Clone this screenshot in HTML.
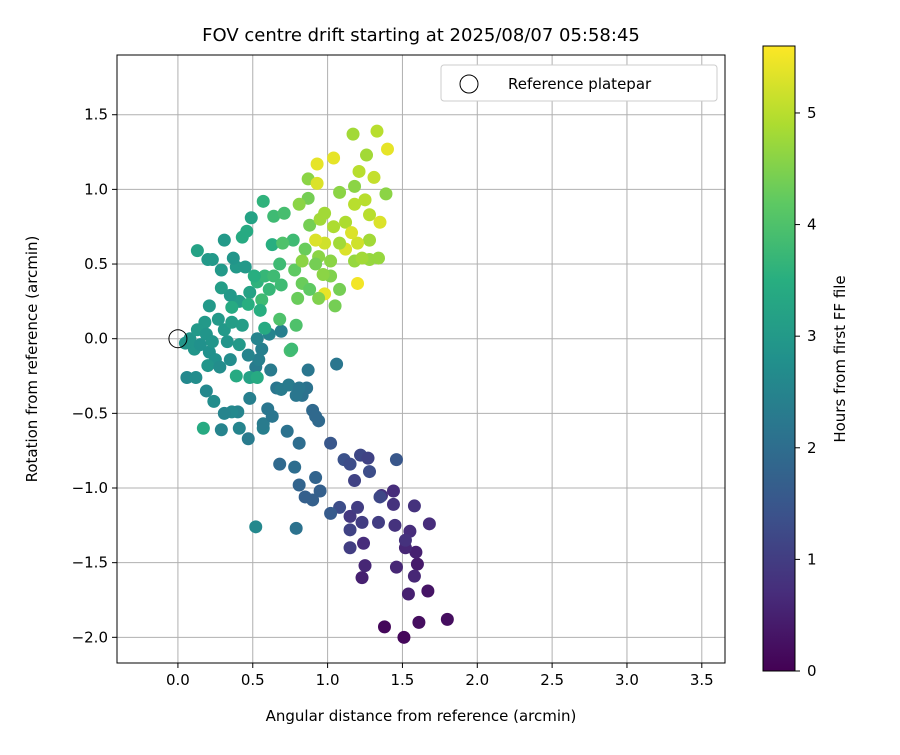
<!DOCTYPE html>
<html><head><meta charset="utf-8"><style>
body{margin:0;background:#fff;}
svg text{font-family:"DejaVu Sans","Liberation Sans",sans-serif;fill:#000;}
</style></head><body>
<svg id="chart" width="900" height="750" xmlns="http://www.w3.org/2000/svg">
<defs>
<linearGradient id="vir" x1="0" y1="1" x2="0" y2="0">
<stop offset="0" stop-color="#440154"/><stop offset="0.125" stop-color="#472d7b"/><stop offset="0.25" stop-color="#3b528b"/><stop offset="0.375" stop-color="#2c728e"/><stop offset="0.5" stop-color="#21918c"/><stop offset="0.625" stop-color="#28ae80"/><stop offset="0.75" stop-color="#5ec962"/><stop offset="0.875" stop-color="#addc30"/><stop offset="1" stop-color="#fde725"/>
</linearGradient>
</defs>
<g id="grid"></g><g id="points"></g><g id="axes"></g>
<text x="421" y="41" font-size="18" text-anchor="middle">FOV centre drift starting at 2025/08/07 05:58:45</text>
<text x="421" y="721" font-size="15" text-anchor="middle">Angular distance from reference (arcmin)</text>
<text transform="translate(37,359) rotate(-90)" font-size="15" text-anchor="middle">Rotation from reference (arcmin)</text>
<g>
<rect x="441" y="65" width="276" height="36" rx="3" fill="#fff" stroke="#ccc"/>
<circle cx="469" cy="84" r="9" fill="none" stroke="#000"/>
<text x="508" y="89" font-size="15">Reference platepar</text>
</g>
<rect x="763" y="46" width="32" height="625" fill="url(#vir)" stroke="#000"/>
<g id="cbticks"></g>
<text transform="translate(845,359) rotate(-90)" font-size="15" text-anchor="middle">Hours from first FF file</text>
</svg>
<script>
const xs=[1.38,1.51,1.80,1.67,1.61,1.54,1.60,1.59,1.58,1.46,1.55,1.52,1.52,1.68,1.58,1.44,1.44,1.45,1.36,1.34,1.23,1.15,1.15,1.15,1.23,1.25,1.24,1.20,1.08,1.18,1.11,1.15,1.22,1.27,1.46,1.28,1.35,1.02,1.02,0.95,0.90,0.92,0.81,0.85,0.79,0.68,0.78,0.81,0.73,0.94,0.90,0.92,0.83,0.86,0.87,1.06,0.52,0.57,0.57,0.60,0.63,0.66,0.69,0.74,0.79,0.81,0.48,0.47,0.41,0.40,0.36,0.31,0.29,0.19,0.24,0.17,0.06,0.12,0.52,0.54,0.56,0.53,0.62,0.69,0.61,0.47,0.48,0.39,0.53,0.75,0.76,
0.08,0.11,0.15,0.21,0.25,0.20,0.28,0.35,0.33,0.31,0.36,0.43,0.41,0.27,0.18,0.13,0.19,0.23,0.05,0.41,0.48,0.35,0.29,0.21,0.29,0.39,0.37,0.45,0.20,0.23,0.13,0.31,0.43,0.46,0.49,0.57,0.47,0.53,0.56,0.61,0.58,0.51,0.64,0.69,0.68,0.63,0.64,0.71,0.77,0.83,0.80,0.79,0.68,0.58,0.55,0.36,
0.78,0.85,0.88,0.87,0.87,0.93,0.93,1.04,1.17,1.26,1.33,1.40,1.31,1.21,1.39,1.18,1.08,0.98,0.95,1.04,1.12,1.18,1.25,1.28,1.35,1.28,1.20,1.12,1.16,1.08,0.98,0.92,0.94,1.02,1.18,1.28,1.34,1.23,1.02,1.08,1.05,0.98,1.20,0.81,0.83,0.92,0.94,0.97,0.88,0.70];
const ys=[-1.93,-2.0,-1.88,-1.69,-1.90,-1.71,-1.51,-1.43,-1.59,-1.53,-1.29,-1.40,-1.35,-1.24,-1.12,-1.02,-1.11,-1.25,-1.05,-1.23,-1.23,-1.19,-1.28,-1.40,-1.60,-1.52,-1.37,-1.13,-1.13,-0.95,-0.81,-0.84,-0.78,-0.80,-0.81,-0.89,-1.06,-0.70,-1.17,-1.02,-1.08,-0.93,-0.98,-1.06,-1.27,-0.84,-0.86,-0.70,-0.62,-0.55,-0.48,-0.52,-0.38,-0.33,-0.21,-0.17,-1.26,-0.60,-0.57,-0.47,-0.52,-0.33,-0.34,-0.31,-0.38,-0.33,-0.40,-0.67,-0.60,-0.49,-0.49,-0.50,-0.61,-0.35,-0.42,-0.60,-0.26,-0.26,-0.19,-0.14,-0.07,0.0,-0.21,0.05,0.03,-0.11,-0.26,-0.25,-0.26,-0.08,-0.07,
0,-0.07,-0.04,-0.09,-0.14,-0.18,-0.19,-0.14,-0.02,0.06,0.11,0.09,-0.04,0.13,0.11,0.06,0.03,-0.02,-0.03,0.25,0.31,0.29,0.34,0.22,0.46,0.48,0.54,0.48,0.53,0.53,0.59,0.66,0.68,0.72,0.81,0.92,0.23,0.38,0.26,0.33,0.42,0.42,0.42,0.36,0.50,0.63,0.82,0.84,0.66,0.37,0.27,0.09,0.13,0.07,0.19,0.21,
0.46,0.60,0.76,0.94,1.07,1.04,1.17,1.21,1.37,1.23,1.39,1.27,1.08,1.12,0.97,1.02,0.98,0.84,0.80,0.75,0.78,0.90,0.93,0.83,0.78,0.66,0.64,0.60,0.71,0.64,0.64,0.66,0.55,0.52,0.52,0.53,0.54,0.54,0.42,0.33,0.22,0.30,0.37,0.90,0.52,0.50,0.27,0.43,0.33,0.64];
const hs=[0.1,0.1,0.2,0.3,0.2,0.5,0.4,0.5,0.6,0.6,0.7,0.6,0.8,0.7,0.8,0.7,0.8,0.8,0.8,1.0,1.0,0.9,1.1,1.0,0.5,0.6,0.7,1.0,1.3,1.1,1.4,1.3,1.2,1.1,1.5,1.3,1.2,1.5,1.6,1.7,1.7,1.8,1.8,1.7,2.1,1.9,2.0,2.0,2.1,1.9,1.9,1.9,2.1,2.1,2.2,2.2,2.6,2.4,2.3,2.2,2.2,2.2,2.3,2.3,2.2,2.2,2.4,2.3,2.5,2.5,2.6,2.5,2.5,2.6,2.7,3.4,2.6,2.7,2.3,2.4,2.4,2.5,2.3,2.4,2.5,2.5,3.2,3.4,3.4,3.9,3.8,
2.9,2.9,2.8,2.8,2.8,2.9,2.7,2.7,2.9,3.0,3.1,3.1,3.0,3.0,3.0,3.0,2.9,2.9,2.9,3.1,3.2,3.0,3.1,3.0,3.0,3.0,2.9,3.0,3.0,3.0,3.2,3.0,3.4,3.4,3.2,3.6,3.5,3.6,3.8,3.7,3.7,3.5,3.8,3.8,3.8,3.5,3.8,3.9,3.8,4.3,4.3,4.0,4.0,3.4,3.5,3.4,
4.2,4.3,4.4,4.4,4.6,5.3,5.4,5.4,4.8,4.8,5.0,5.4,5.1,5.0,4.6,4.6,4.6,4.8,4.8,4.9,4.9,5.0,5.0,5.0,5.3,4.8,5.2,5.3,5.3,4.8,5.2,5.3,4.6,4.6,4.7,4.7,4.7,4.8,4.5,4.4,4.4,5.4,5.5,4.6,4.6,4.4,4.5,4.6,4.2,4.0];
const xTicks=[0,0.5,1,1.5,2,2.5,3,3.5];
const yTicks=[-2,-1.5,-1,-0.5,0,0.5,1,1.5];
const cTicks=[0,1,2,3,4,5];
const X0=117,X1=725,Y0=55,Y1=663,XMIN=-0.407,XMAX=3.655,YMIN=-2.172,YMAX=1.9,CMAX=5.6;
const sx=v=>X0+(v-XMIN)/(XMAX-XMIN)*(X1-X0);
const sy=v=>Y1-(v-YMIN)/(YMAX-YMIN)*(Y1-Y0);
const cy=v=>671-v/CMAX*625;
const NS="http://www.w3.org/2000/svg";
const stops=["#440154","#472d7b","#3b528b","#2c728e","#21918c","#28ae80","#5ec962","#addc30","#fde725"];
function hex(c){return [1,3,5].map(i=>parseInt(c.substr(i,2),16));}
function vir(t){t=Math.max(0,Math.min(1,t))*8;const i=Math.min(7,Math.floor(t)),f=t-i;const a=hex(stops[i]),b=hex(stops[i+1]);return "rgb("+a.map((v,k)=>Math.round(v+(b[k]-v)*f)).join(",")+")";}
function mk(tag,attrs,parent){const e=document.createElementNS(NS,tag);for(const k in attrs)e.setAttribute(k,attrs[k]);parent.appendChild(e);return e;}
const grid=document.getElementById("grid"),axes=document.getElementById("axes"),pts=document.getElementById("points"),cb=document.getElementById("cbticks");
xTicks.forEach(v=>{
 const l=mk("line",{x1:sx(v),x2:sx(v),y1:Y0,y2:Y1,stroke:"#b0b0b0","stroke-width":1},grid);
 
 
 const t=mk("line",{x1:sx(v),x2:sx(v),y1:Y1,y2:Y1+5,stroke:"#000"},axes);
 
 
 const tx=mk("text",{x:sx(v),y:Y1+22,"font-size":15,"text-anchor":"middle"},axes);
 tx.textContent=v.toFixed(1);
 
 
});
yTicks.forEach(v=>{
 const l=mk("line",{x1:X0,x2:X1,y1:sy(v),y2:sy(v),stroke:"#b0b0b0","stroke-width":1},grid);
 
 
 const t=mk("line",{x1:X0-5,x2:X0,y1:sy(v),y2:sy(v),stroke:"#000"},axes);
 
 
 const tx=mk("text",{x:X0-9,y:sy(v)+5,"font-size":15,"text-anchor":"end"},axes);
 tx.textContent=(v<0?"\u2212":"")+Math.abs(v).toFixed(1);
 
 
});
xs.forEach((x,i)=>{
 const c=mk("circle",{cx:sx(x),cy:sy(ys[i]),r:6.5,fill:vir(hs[i]/CMAX)},pts);
 
 
});
const ref=mk("circle",{cx:sx(0),cy:sy(0),r:9,fill:"none",stroke:"#000"},pts);


const frame=mk("rect",{x:X0,y:Y0,width:X1-X0,height:Y1-Y0,fill:"none",stroke:"#000"},axes);


cTicks.forEach(v=>{
 const t=mk("line",{x1:795,x2:800,y1:cy(v),y2:cy(v),stroke:"#000"},cb);
 
 
 const tx=mk("text",{x:807,y:cy(v)+5,"font-size":15},cb);
 tx.textContent=v;
 
 
});
</script>
</body></html>
